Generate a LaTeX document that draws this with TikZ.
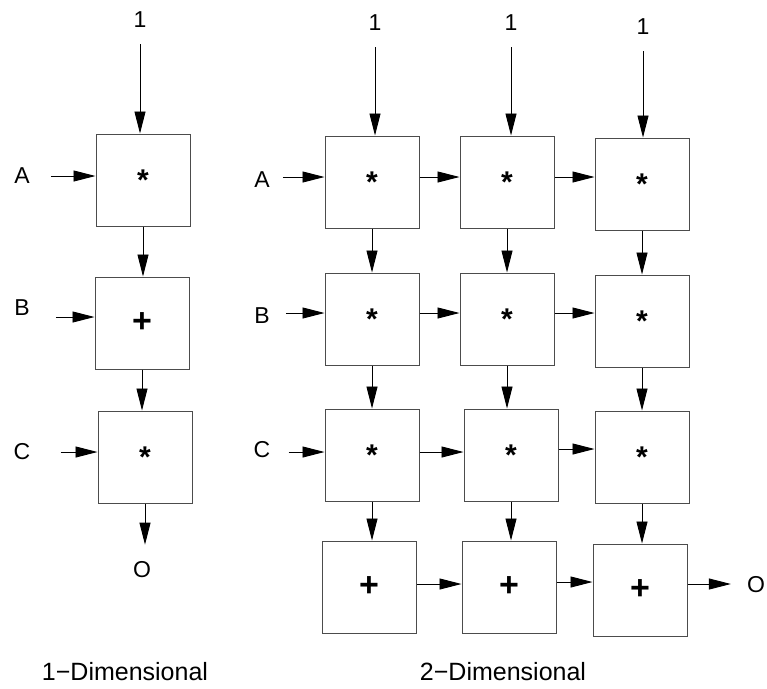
\documentclass[tikz,border=0pt]{standalone}
\usepackage{fontspec}
\setmainfont{Liberation Sans}
\usetikzlibrary{arrows.meta}

\begin{document}
\begin{tikzpicture}[x=1pt,y=-1pt,
  cell/.style={draw=black!70,line width=1pt,minimum width=94pt,minimum height=92pt,inner sep=0pt},
  mulcell/.style={cell,font=\fontsize{30}{32}\selectfont\bfseries},
  addcell/.style={cell,font=\fontsize{34}{36}\selectfont\bfseries},
  lbl/.style={font=\fontsize{23}{26}\selectfont,inner sep=0pt},
  captext/.style={font=\fontsize{25}{28}\selectfont,inner sep=0pt},
  arr/.style={-{Triangle[length=22pt,width=11pt]},line width=0.9pt}]
  \useasboundingbox (0,0) rectangle (767,688);

  % 1-D pipeline
  \node[lbl] (one) at (140,20) {1};
  \node[mulcell] (d1) at (143,180) {*};
  \node[addcell] (d2) at (142,323) {+};
  \node[mulcell] (d3) at (145,457) {*};
  \node[lbl] (inA) at (22,176) {A};
  \node[lbl] (inB) at (22,308) {B};
  \node[lbl] (inC) at (22,452) {C};
  \node[lbl] (out) at (142,570) {O};
  \node[captext] (cap1) at (125,672) {1−Dimensional};

  \draw[arr,shorten <=16pt] (one) -- (one |- d1.north);
  \draw[arr,shorten <=21pt] (inA) -- (inA -| d1.west);
  \draw[arr] ([xshift=26pt,yshift=-9pt]inB.east) -- ([yshift=-9pt]inB.east -| d2.west);
  \draw[arr,shorten <=30pt] (inC) -- (inC -| d3.west);
  \draw[arr] (d1.south) -- (d1.south |- d2.north);
  \draw[arr] (d2.south) -- (d2.south |- d3.north);
  \draw[arr,shorten >=17pt] (d3.south) -- (d3.south |- out.north);

  % 2-D array
  \node[lbl] (top1) at (375,23) {1};
  \node[lbl] (top2) at (511,23) {1};
  \node[lbl] (top3) at (643,27) {1};

  \node[mulcell] (g11) at (372,182) {*};
  \node[mulcell] (g12) at (507,182) {*};
  \node[mulcell] (g13) at (642,184) {*};
  \node[mulcell] (g21) at (372,319) {*};
  \node[mulcell] (g22) at (507,319) {*};
  \node[mulcell] (g23) at (642,321) {*};
  \node[mulcell] (g31) at (372,455) {*};
  \node[mulcell] (g32) at (511,455) {*};
  \node[mulcell] (g33) at (642,457) {*};
  \node[addcell] (g41) at (369,587) {+};
  \node[addcell] (g42) at (509,587) {+};
  \node[addcell] (g43) at (640,590) {+};

  \node[lbl] (gA) at (262,180) {A};
  \node[lbl] (gB) at (262,316) {B};
  \node[lbl] (gC) at (262,450) {C};
  \node[lbl] (gO) at (756,585) {O};
  \node[captext] (cap2) at (503,672) {2−Dimensional};

  \draw[arr,shorten <=16pt] (top1) -- (top1 |- g11.north);
  \draw[arr,shorten <=16pt] (top2) -- (top2 |- g12.north);
  \draw[arr,shorten <=16pt] (top3) -- (top3 |- g13.north);

  \draw[arr] ([xshift=13pt,yshift=3pt]gA.east) -- ([yshift=3pt]gA.east -| g11.west);
  \draw[arr] ([xshift=16pt,yshift=3pt]gB.east) -- ([yshift=3pt]gB.east -| g21.west);
  \draw[arr] ([xshift=18pt,yshift=-2pt]gC.east) -- ([yshift=-2pt]gC.east -| g31.west);

  % row links
  \draw[arr] ([yshift=5pt]g11.east) -- ([yshift=5pt]g11.east -| g12.west);
  \draw[arr] ([yshift=5pt]g12.east) -- ([yshift=5pt]g12.east -| g13.west);
  \draw[arr] ([yshift=6pt]g21.east) -- ([yshift=6pt]g21.east -| g22.west);
  \draw[arr] ([yshift=6pt]g22.east) -- ([yshift=6pt]g22.east -| g23.west);
  \draw[arr] ([yshift=3pt]g31.east) -- ([yshift=3pt]g31.east -| g32.west);
  \draw[arr] ([yshift=6pt]g32.east) -- ([yshift=6pt]g32.east -| g33.west);
  \draw[arr] ([yshift=3pt]g41.east) -- ([yshift=3pt]g41.east -| g42.west);
  \draw[arr] ([yshift=5pt]g42.east) -- ([yshift=5pt]g42.east -| g43.west);
  \draw[arr,shorten >=16pt] ([yshift=6pt]g43.east) -- ([yshift=6pt]g43.east -| gO.west);

  % column links
  \draw[arr] (g11.south) -- (g11.south |- g21.north);
  \draw[arr] (g12.south) -- (g12.south |- g22.north);
  \draw[arr] (g13.south) -- (g13.south |- g23.north);
  \draw[arr] (g21.south) -- (g21.south |- g31.north);
  \draw[arr] (g22.south) -- (g22.south |- g32.north);
  \draw[arr] (g23.south) -- (g23.south |- g33.north);
  \draw[arr] (g31.south) -- (g31.south |- g41.north);
  \draw[arr] (g32.south) -- (g32.south |- g42.north);
  \draw[arr] (g33.south) -- (g33.south |- g43.north);
\end{tikzpicture}
\end{document}
